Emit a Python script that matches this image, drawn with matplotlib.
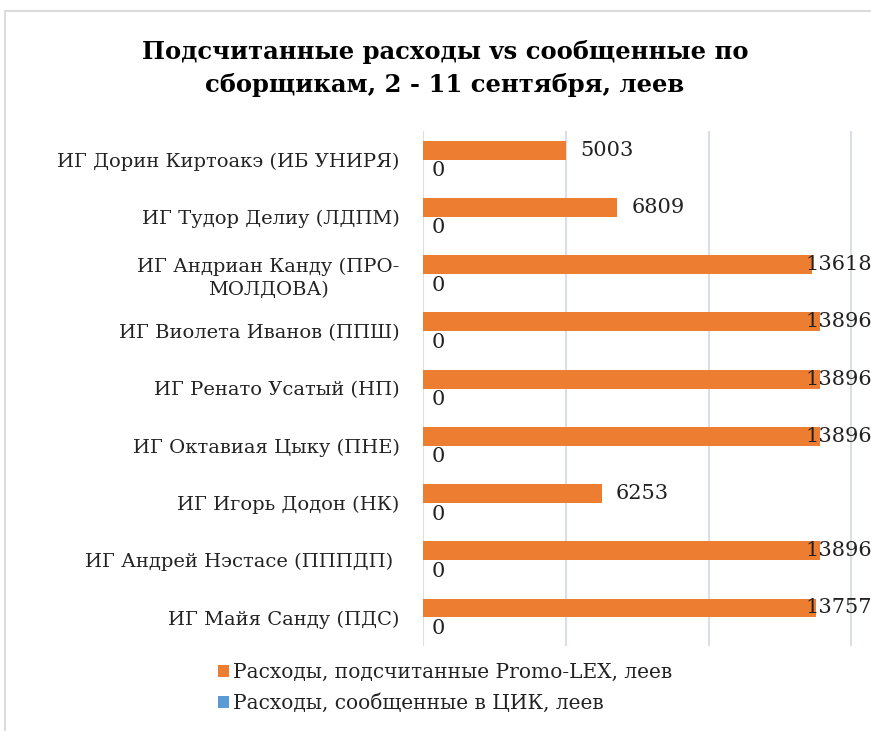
import matplotlib
matplotlib.use("Agg")
import matplotlib.pyplot as plt
from matplotlib.patches import Rectangle

categories = [
    "ИГ Дорин Киртоакэ (ИБ УНИРЯ)",
    "ИГ Тудор Делиу (ЛДПМ)",
    "ИГ Андриан Канду (ПРО-\nМОЛДОВА)",
    "ИГ Виолета Иванов (ППШ)",
    "ИГ Ренато Усатый (НП)",
    "ИГ Октавиая Цыку (ПНЕ)",
    "ИГ Игорь Додон (НК)",
    "ИГ Андрей Нэстасе (ПППДП) ",
    "ИГ Майя Санду (ПДС)",
]
promolex = [5003, 6809, 13618, 13896, 13896, 13896, 6253, 13896, 13757]
cec = [0, 0, 0, 0, 0, 0, 0, 0, 0]
series_names = ["Расходы, подсчитанные Promo-LEX, леев",
                "Расходы, сообщенные в ЦИК, леев"]

plt.rcParams['font.family'] = ['DejaVu Serif']

fig = plt.figure(figsize=(8.71, 7.31), dpi=100)
ax = fig.add_axes([423 / 871, 1 - 646 / 731, 571 / 871, (646 - 131) / 731])

orange = "#ED7D31"
blue = "#5B9BD5"
h = 0.33
y = list(range(len(categories)))
ax.barh([i - h / 2 for i in y], promolex, height=h, color=orange, label=series_names[0], zorder=3)
ax.barh([i + h / 2 for i in y], cec, height=h, color=blue, label=series_names[1], zorder=3)

fs = 14
for i, v in enumerate(promolex):
    ax.text(min(v + 500, 13400), i - h / 2, str(v), va="center", ha="left", fontsize=15, color="#222222")
for i, v in enumerate(cec):
    ax.text(v + 300, i + h / 2 + 0.03, str(v), va="center", ha="left", fontsize=15, color="#222222")

ax.set_xlim(0, 20000)
ax.set_ylim(len(categories) - 0.5, -0.5)
ax.set_xticks([0, 5000, 10000, 15000, 20000])
ax.set_xticklabels([])
ax.tick_params(axis="x", length=0)
ax.tick_params(axis="y", length=0, pad=17, labelsize=fs, labelcolor="#222222")
ax.set_yticks(y)
ax.set_yticklabels(categories, multialignment="center", linespacing=1.35)
ax.grid(axis="x", color="#D9DEE8", linewidth=1.5, zorder=0)
for s in ax.spines.values():
    s.set_visible(False)

fig.text(445 / 871, 1 - 68.5 / 731,
         "Подсчитанные расходы vs сообщенные по\nсборщикам, 2 - 11 сентября, леев",
         ha="center", va="center", fontsize=17.5, fontweight="bold", linespacing=1.5)

fig.legend(loc="upper left", bbox_to_anchor=(200 / 871, 1 - 645 / 731), frameon=False,
           fontsize=14.5, handlelength=0.55, handleheight=0.55, handletextpad=0.2,
           labelspacing=0.55, labelcolor="#222222")

fig.patches.append(Rectangle((5 / 871, -0.1), 1.2, 1 - 11 / 731 + 0.1, transform=fig.transFigure,
                             fill=False, edgecolor="#DCDCDC", linewidth=1.5))

fig.savefig("out.png", dpi=100)
